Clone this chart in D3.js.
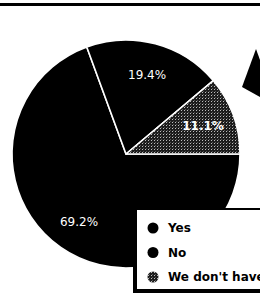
<!DOCTYPE html>
<html>
<head>
<meta charset="utf-8">
<script src="https://cdn.jsdelivr.net/npm/d3@7"></script>
<style>
  html, body { margin: 0; padding: 0; background: #fff; }
  svg { display: block; }
</style>
</head>
<body>
<div id="chart"></div>
<script>
// Chart data
const categories = ['Yes', 'No', "We don't have"];
const values = [69.2, 19.4, 11.1];
const valueLabels = ['69.2%', '19.4%', '11.1%'];

const width = 260;
const height = 298;
const cx = 126, cy = 154, radius = 114;

const svg = d3.select('#chart')
    .append('svg')
    .attr('width', width)
    .attr('height', height);

// Dithered fill for the third slice (scanned look)
const defs = svg.append('defs');
const pat = defs.append('pattern')
    .attr('id', 'dither')
    .attr('width', 3)
    .attr('height', 3)
    .attr('patternUnits', 'userSpaceOnUse');
pat.append('rect').attr('width', 3).attr('height', 3).attr('fill', '#1c1c1c');
pat.append('rect').attr('x', 1).attr('y', 1).attr('width', 1).attr('height', 1).attr('fill', '#bdbdbd');
pat.append('rect').attr('x', 2).attr('y', 0).attr('width', 1).attr('height', 1).attr('fill', '#555');

const fills = ['#000', '#000', 'url(#dither)'];

// Top rule line
svg.append('line')
    .attr('x1', 0).attr('x2', width)
    .attr('y1', 4.5).attr('y2', 4.5)
    .attr('stroke', '#000')
    .attr('stroke-width', 3);

// Pie
const pie = d3.pie()
    .sort(null)
    .startAngle(Math.PI / 2)
    .endAngle(Math.PI / 2 + 2 * Math.PI);

const arc = d3.arc().innerRadius(0).outerRadius(radius);
const labelArc = d3.arc().innerRadius(82).outerRadius(82);

const g = svg.append('g')
    .attr('transform', `translate(${cx},${cy})`);

const arcs = pie(values);

g.selectAll('path.slice')
    .data(arcs)
    .enter()
    .append('path')
    .attr('class', 'slice')
    .attr('d', arc)
    .attr('fill', (d, i) => fills[i])
    .attr('stroke', '#fff')
    .attr('stroke-width', 1.6)
    .attr('stroke-linejoin', 'round');

g.selectAll('text.pct')
    .data(arcs)
    .enter()
    .append('text')
    .attr('class', 'pct')
    .attr('transform', d => `translate(${labelArc.centroid(d)})`)
    .attr('dy', '0.36em')
    .attr('text-anchor', 'middle')
    .style('font-family', '"DejaVu Sans", sans-serif')
    .style('font-size', '12px')
    .style('font-weight', (d, i) => i === 2 ? 'bold' : 'normal')
    .style('fill', '#fff')
    .text((d, i) => valueLabels[i]);

// Fragment of a shape cut off at the right edge of the scan
svg.append('path')
    .attr('d', 'M256,49 L242,87 L260,97 L260,60 Z')
    .attr('fill', '#000');

// Legend (box runs off the right edge)
const legend = svg.append('g');
legend.append('rect')
    .attr('x', 133).attr('y', 208)
    .attr('width', 140).attr('height', 85)
    .attr('fill', '#000');
legend.append('rect')
    .attr('x', 137).attr('y', 210)
    .attr('width', 140).attr('height', 79)
    .attr('fill', '#fff');

const legendY = d3.scalePoint()
    .domain(categories)
    .range([228, 277]);

const items = legend.selectAll('g.item')
    .data(categories)
    .enter()
    .append('g')
    .attr('class', 'item')
    .attr('transform', d => `translate(153,${legendY(d)})`);

items.append('circle')
    .attr('r', 5.5)
    .attr('fill', (d, i) => fills[i]);

items.append('text')
    .attr('x', 15)
    .attr('dy', '0.36em')
    .style('font-family', '"DejaVu Sans", sans-serif')
    .style('font-size', '12px')
    .style('font-weight', 'bold')
    .style('fill', '#000')
    .text(d => d);
</script>
</body>
</html>
